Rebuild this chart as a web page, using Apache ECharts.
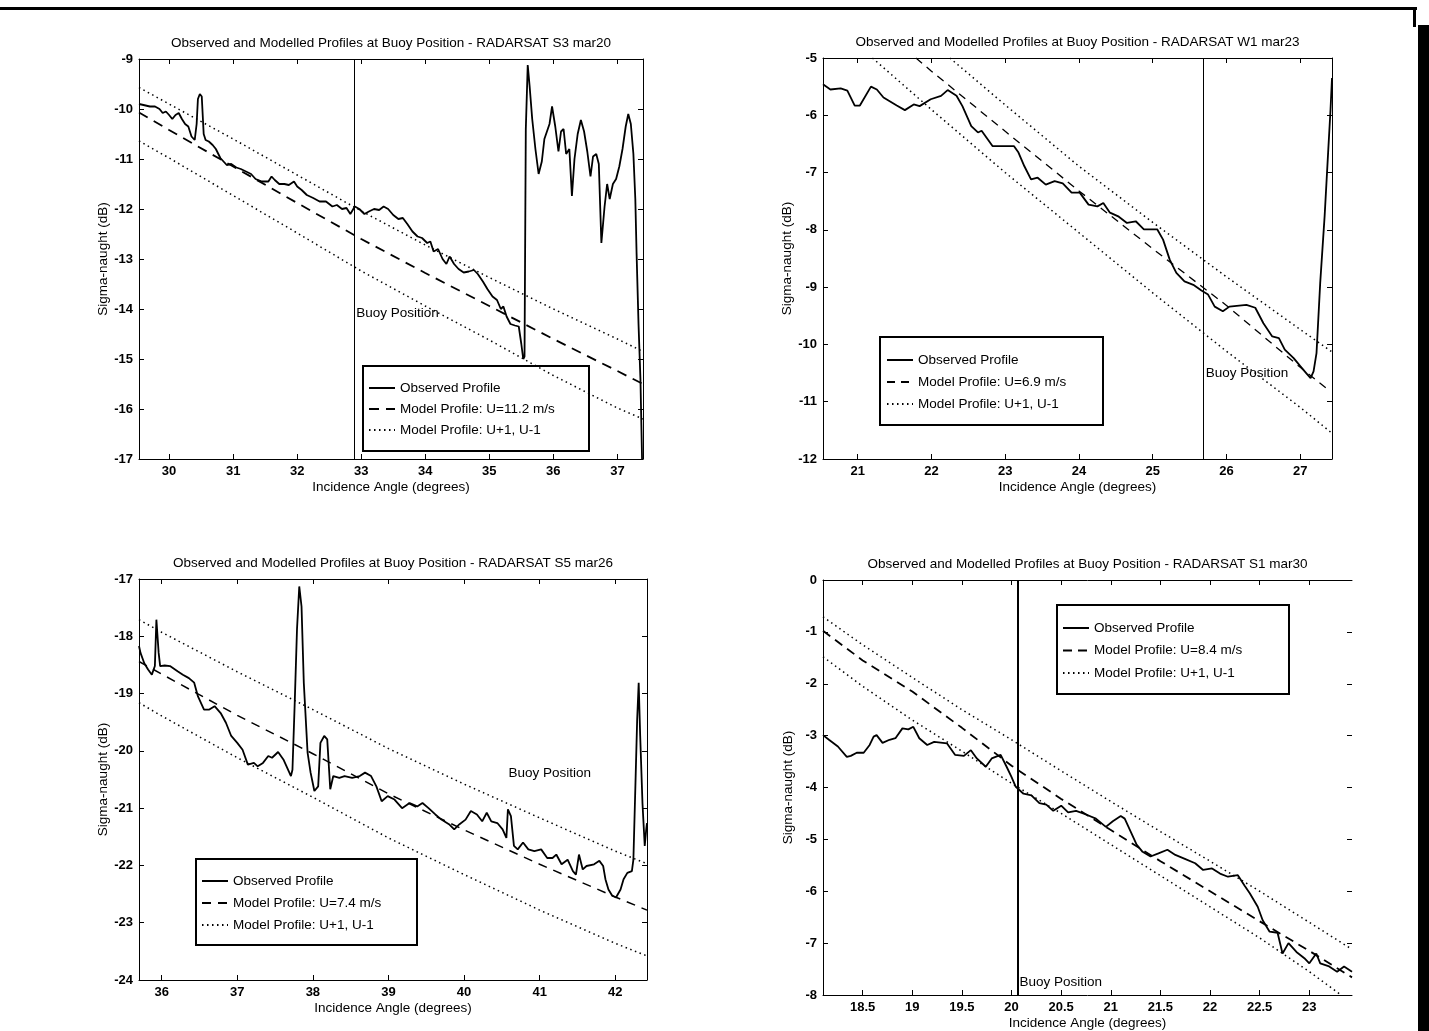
<!DOCTYPE html>
<html><head><meta charset="utf-8">
<script src="https://cdn.jsdelivr.net/npm/echarts@6/dist/echarts.min.js"></script>
<style>html,body{margin:0;padding:0;background:#fff;}#c{width:1429px;height:1031px;}</style>
</head><body><div id="c"></div>
<script>
// ---------------- DATA ----------------
const obsName = 'Observed Profile';
const bandName = 'Model Profile: U+1, U-1';
const xName = 'Incidence Angle (degrees)';
const yName = 'Sigma-naught (dB)';
const buoyText = 'Buoy Position';

// Panel 1: RADARSAT S3 mar20
const p1Title = 'Observed and Modelled Profiles at Buoy Position - RADARSAT S3 mar20';
const p1ModelName = 'Model Profile: U=11.2 m/s';
const p1XTicks = [30,31,32,33,34,35,36,37];
const p1Buoy = 32.89;
const p1Note = [32.89, -14.08];
const p1Obs = [[29.53,-9.90],[29.6,-9.92],[29.7,-9.95],[29.78,-9.95],[29.85,-10.0],[29.9,-10.08],[29.95,-10.05],[30.0,-10.12],[30.05,-10.2],[30.1,-10.12],[30.15,-10.08],[30.2,-10.2],[30.25,-10.3],[30.3,-10.35],[30.35,-10.55],[30.4,-10.62],[30.43,-10.3],[30.45,-9.8],[30.48,-9.7],[30.51,-9.75],[30.54,-10.5],[30.57,-10.62],[30.62,-10.65],[30.68,-10.72],[30.73,-10.8],[30.8,-10.98],[30.85,-11.05],[30.9,-11.12],[30.97,-11.1],[31.05,-11.17],[31.12,-11.2],[31.2,-11.25],[31.28,-11.3],[31.35,-11.4],[31.45,-11.45],[31.55,-11.45],[31.6,-11.35],[31.65,-11.42],[31.72,-11.5],[31.8,-11.5],[31.87,-11.52],[31.95,-11.45],[32.0,-11.55],[32.07,-11.62],[32.15,-11.72],[32.25,-11.78],[32.35,-11.85],[32.45,-11.85],[32.55,-11.95],[32.62,-11.92],[32.7,-12.0],[32.77,-11.98],[32.83,-12.1],[32.9,-11.95],[32.97,-12.0],[33.05,-12.1],[33.12,-12.05],[33.2,-12.0],[33.28,-12.02],[33.35,-11.95],[33.42,-12.0],[33.5,-12.12],[33.58,-12.2],[33.65,-12.18],[33.72,-12.3],[33.8,-12.45],[33.88,-12.55],[33.95,-12.58],[34.03,-12.68],[34.08,-12.65],[34.13,-12.85],[34.2,-12.8],[34.27,-13.0],[34.33,-13.1],[34.38,-12.95],[34.45,-13.1],[34.52,-13.2],[34.6,-13.27],[34.68,-13.25],[34.76,-13.22],[34.82,-13.3],[34.9,-13.45],[34.97,-13.6],[35.05,-13.75],[35.12,-13.82],[35.18,-14.0],[35.22,-13.95],[35.27,-14.15],[35.33,-14.3],[35.4,-14.33],[35.46,-14.35],[35.5,-14.7],[35.53,-15.0],[35.55,-14.95],[35.57,-10.4],[35.6,-9.12],[35.63,-9.55],[35.67,-10.2],[35.72,-10.8],[35.77,-11.3],[35.82,-11.05],[35.86,-10.6],[35.9,-10.45],[35.94,-10.3],[35.98,-9.95],[36.03,-10.35],[36.08,-10.85],[36.12,-10.45],[36.16,-10.4],[36.2,-10.9],[36.25,-10.8],[36.29,-11.74],[36.33,-11.0],[36.38,-10.5],[36.43,-10.22],[36.48,-10.45],[36.53,-10.85],[36.58,-11.35],[36.62,-10.95],[36.67,-10.9],[36.71,-11.1],[36.75,-12.68],[36.8,-11.95],[36.84,-11.5],[36.88,-11.8],[36.93,-11.5],[36.98,-11.4],[37.03,-11.15],[37.08,-10.8],[37.13,-10.35],[37.17,-10.1],[37.21,-10.3],[37.25,-10.9],[37.28,-11.8],[37.3,-12.9],[37.33,-14.3],[37.36,-15.4],[37.39,-17.3]];
const p1Model = [[29.53,-10.07],[30,-10.42],[31,-11.15],[32,-11.88],[33,-12.6],[34,-13.28],[35,-13.94],[36,-14.6],[37,-15.24],[37.4,-15.5]];
const p1Upper = [[29.53,-9.57],[30,-9.9],[31,-10.6],[32,-11.32],[33,-12.04],[34,-12.72],[35,-13.37],[36,-14.0],[37,-14.6],[37.4,-14.85]];
const p1Lower = [[29.53,-10.64],[30,-10.98],[31,-11.73],[32,-12.48],[33,-13.24],[34,-13.94],[35,-14.62],[36,-15.33],[37,-15.98],[37.4,-16.2]];

// Panel 2: RADARSAT W1 mar23
const p2Title = 'Observed and Modelled Profiles at Buoy Position - RADARSAT W1 mar23';
const p2ModelName = 'Model Profile: U=6.9 m/s';
const p2XTicks = [21,22,23,24,25,26,27];
const p2Buoy = 25.69;
const p2Note = [25.69, -10.5];
const p2Obs = [[20.53,-5.46],[20.63,-5.55],[20.77,-5.53],[20.86,-5.57],[20.96,-5.83],[21.03,-5.83],[21.18,-5.50],[21.26,-5.55],[21.35,-5.69],[21.53,-5.83],[21.64,-5.91],[21.76,-5.81],[21.84,-5.84],[21.99,-5.72],[22.13,-5.66],[22.22,-5.56],[22.34,-5.66],[22.42,-5.84],[22.54,-6.19],[22.63,-6.30],[22.68,-6.27],[22.83,-6.54],[23.0,-6.54],[23.12,-6.54],[23.18,-6.65],[23.26,-6.89],[23.35,-7.12],[23.44,-7.09],[23.55,-7.21],[23.67,-7.15],[23.78,-7.19],[23.9,-7.35],[24.01,-7.35],[24.13,-7.56],[24.25,-7.59],[24.33,-7.53],[24.42,-7.70],[24.54,-7.77],[24.65,-7.88],[24.77,-7.85],[24.88,-7.99],[25.06,-7.99],[25.14,-8.17],[25.23,-8.52],[25.32,-8.75],[25.43,-8.90],[25.55,-8.96],[25.66,-9.06],[25.75,-9.13],[25.84,-9.34],[25.95,-9.42],[26.04,-9.34],[26.27,-9.31],[26.39,-9.36],[26.5,-9.63],[26.62,-9.86],[26.71,-9.89],[26.79,-10.09],[26.91,-10.24],[27.0,-10.38],[27.08,-10.50],[27.14,-10.59],[27.18,-10.47],[27.22,-10.15],[27.27,-8.93],[27.33,-7.76],[27.38,-6.59],[27.41,-5.90],[27.43,-5.35]];
const p2Model = [[21.79,-5.0],[22,-5.23],[23,-6.28],[24,-7.32],[25,-8.33],[26,-9.32],[27,-10.4],[27.36,-10.77]];
const p2Upper = [[22.25,-5.0],[23,-5.82],[24,-6.89],[25,-7.87],[26,-8.82],[27,-9.74],[27.43,-10.13]];
const p2Lower = [[21.2,-5.0],[22,-5.9],[23,-7.0],[24,-8.05],[25,-9.1],[26,-10.12],[27,-11.1],[27.43,-11.55]];

// Panel 3: RADARSAT S5 mar26
const p3Title = 'Observed and Modelled Profiles at Buoy Position - RADARSAT S5 mar26';
const p3ModelName = 'Model Profile: U=7.4 m/s';
const p3XTicks = [36,37,38,39,40,41,42];
const p3Buoy = null;
const p3Note = [40.56, -20.40];
const p3Obs = [[35.7,-18.17],[35.72,-18.29],[35.77,-18.47],[35.82,-18.58],[35.87,-18.67],[35.91,-18.52],[35.93,-17.71],[35.96,-18.29],[35.98,-18.52],[36.04,-18.51],[36.11,-18.52],[36.21,-18.61],[36.28,-18.67],[36.36,-18.73],[36.43,-18.81],[36.48,-19.05],[36.56,-19.28],[36.63,-19.28],[36.70,-19.22],[36.78,-19.34],[36.85,-19.51],[36.92,-19.74],[37.0,-19.86],[37.07,-19.98],[37.14,-20.24],[37.22,-20.21],[37.27,-20.27],[37.34,-20.21],[37.41,-20.09],[37.46,-20.12],[37.54,-20.02],[37.61,-20.15],[37.71,-20.44],[37.73,-20.33],[37.76,-19.16],[37.79,-17.88],[37.82,-17.13],[37.85,-17.48],[37.88,-18.81],[37.93,-20.03],[37.97,-20.38],[38.02,-20.70],[38.07,-20.62],[38.10,-19.86],[38.15,-19.74],[38.19,-19.80],[38.23,-20.67],[38.27,-20.44],[38.35,-20.47],[38.42,-20.44],[38.52,-20.47],[38.62,-20.44],[38.69,-20.38],[38.77,-20.44],[38.84,-20.62],[38.91,-20.88],[38.99,-20.79],[39.08,-20.85],[39.18,-21.0],[39.28,-20.91],[39.38,-20.97],[39.45,-20.91],[39.53,-21.0],[39.62,-21.11],[39.70,-21.20],[39.80,-21.28],[39.87,-21.37],[39.94,-21.28],[40.02,-21.20],[40.09,-21.05],[40.17,-21.11],[40.24,-21.23],[40.30,-21.08],[40.36,-21.23],[40.44,-21.26],[40.51,-21.37],[40.56,-21.52],[40.58,-21.02],[40.62,-21.14],[40.66,-21.66],[40.71,-21.72],[40.78,-21.60],[40.85,-21.72],[40.93,-21.75],[41.02,-21.72],[41.10,-21.87],[41.17,-21.87],[41.22,-21.81],[41.29,-21.98],[41.37,-21.90],[41.44,-22.10],[41.48,-22.16],[41.52,-21.81],[41.57,-22.07],[41.62,-22.01],[41.72,-21.98],[41.79,-21.92],[41.84,-22.01],[41.87,-22.24],[41.91,-22.42],[41.96,-22.53],[42.01,-22.56],[42.07,-22.42],[42.11,-22.24],[42.16,-22.13],[42.22,-22.10],[42.24,-21.90],[42.27,-20.44],[42.29,-19.45],[42.31,-18.81],[42.33,-19.74],[42.36,-20.91],[42.39,-21.66],[42.41,-21.37],[42.42,-21.26]];
const p3Model = [[35.7,-18.44],[36,-18.66],[37,-19.38],[38,-20.05],[39,-20.75],[40,-21.38],[41,-21.98],[42,-22.55],[42.42,-22.78]];
const p3Upper = [[35.7,-17.71],[36,-17.93],[37,-18.62],[38,-19.28],[39,-19.96],[40,-20.58],[41,-21.17],[42,-21.75],[42.42,-21.97]];
const p3Lower = [[35.7,-19.16],[36,-19.39],[37,-20.12],[38,-20.81],[39,-21.52],[40,-22.16],[41,-22.78],[42,-23.36],[42.42,-23.58]];

// Panel 4: RADARSAT S1 mar30
const p4Title = 'Observed and Modelled Profiles at Buoy Position - RADARSAT S1 mar30';
const p4ModelName = 'Model Profile: U=8.4 m/s';
const p4XTicks = [18.5,19,19.5,20,20.5,21,21.5,22,22.5,23];
const p4Buoy = 20.06;
const p4Note = [20.06, -7.75];
const p4Obs = [[18.10,-2.99],[18.16,-3.08],[18.25,-3.21],[18.34,-3.41],[18.38,-3.39],[18.44,-3.33],[18.51,-3.33],[18.57,-3.18],[18.61,-3.02],[18.64,-2.99],[18.70,-3.14],[18.77,-3.08],[18.83,-3.05],[18.90,-2.86],[18.96,-2.88],[19.01,-2.83],[19.07,-3.05],[19.15,-3.18],[19.22,-3.12],[19.35,-3.15],[19.43,-3.37],[19.52,-3.39],[19.59,-3.28],[19.65,-3.44],[19.74,-3.60],[19.80,-3.44],[19.89,-3.37],[19.95,-3.60],[20.0,-3.8],[20.04,-3.98],[20.12,-4.12],[20.2,-4.15],[20.28,-4.3],[20.35,-4.33],[20.42,-4.45],[20.5,-4.35],[20.57,-4.48],[20.65,-4.45],[20.75,-4.52],[20.85,-4.6],[20.95,-4.76],[21.02,-4.65],[21.1,-4.55],[21.14,-4.6],[21.2,-4.85],[21.26,-5.1],[21.32,-5.24],[21.4,-5.33],[21.48,-5.27],[21.57,-5.2],[21.65,-5.3],[21.74,-5.37],[21.85,-5.46],[21.93,-5.59],[22.02,-5.56],[22.1,-5.66],[22.18,-5.72],[22.28,-5.69],[22.35,-5.9],[22.4,-6.04],[22.48,-6.3],[22.53,-6.56],[22.6,-6.78],[22.68,-6.8],[22.73,-7.2],[22.79,-7.0],[22.87,-7.17],[22.95,-7.29],[23.0,-7.39],[23.07,-7.2],[23.11,-7.39],[23.2,-7.45],[23.28,-7.55],[23.35,-7.45],[23.43,-7.55]];
const p4Model = [[18.1,-0.98],[18.5,-1.55],[19,-2.15],[19.5,-2.85],[20,-3.58],[20.5,-4.22],[21,-4.82],[21.5,-5.42],[22,-6.0],[22.5,-6.58],[23,-7.15],[23.43,-7.66]];
const p4Upper = [[18.1,-0.71],[18.5,-1.25],[19,-1.88],[19.5,-2.5],[20,-3.08],[20.5,-3.68],[21,-4.27],[21.5,-4.85],[22,-5.42],[22.5,-6.0],[23,-6.6],[23.43,-7.12]];
const p4Lower = [[18.1,-1.48],[18.5,-2.05],[19,-2.7],[19.5,-3.3],[20,-3.92],[20.5,-4.5],[21,-5.1],[21.5,-5.7],[22,-6.3],[22.5,-6.9],[23,-7.55],[23.32,-8.0]];

// ---------------- LAYOUT / STYLE ----------------
const FONT = '"Liberation Sans", Arial, sans-serif';
const TXT = 13.5;
const panels = [
  {title:p1Title, modelName:p1ModelName, xTicks:p1XTicks, buoy:p1Buoy, note:p1Note, obs:p1Obs, model:p1Model, upper:p1Upper, lower:p1Lower,
   grid:{left:139, top:59, width:504, height:400}, x:[29.53,37.4], y:[-17,-9], buoyW:1, rightLine:true,
   dash:[10,7], dashW:1.8, legend:{x:363, y:366, w:226, h:85, row1:388, step:21, iconX:368}},
  {title:p2Title, modelName:p2ModelName, xTicks:p2XTicks, buoy:p2Buoy, note:p2Note, obs:p2Obs, model:p2Model, upper:p2Upper, lower:p2Lower,
   grid:{left:823, top:58, width:509, height:401}, x:[20.53,27.43], y:[-12,-5], buoyW:1, rightLine:true,
   dash:[8,6], dashW:1.3, legend:{x:880, y:337, w:223, h:88, row1:360, step:22, iconX:886}},
  {title:p3Title, modelName:p3ModelName, xTicks:p3XTicks, buoy:p3Buoy, note:p3Note, obs:p3Obs, model:p3Model, upper:p3Upper, lower:p3Lower,
   grid:{left:139, top:579, width:508, height:401}, x:[35.7,42.42], y:[-24,-17], buoyW:1, rightLine:true,
   dash:[9,7], dashW:1.5, legend:{x:196, y:859, w:221, h:86, row1:881, step:22, iconX:201}},
  {title:p4Title, modelName:p4ModelName, xTicks:p4XTicks, buoy:p4Buoy, note:p4Note, obs:p4Obs, model:p4Model, upper:p4Upper, lower:p4Lower,
   grid:{left:823, top:580, width:529, height:415}, x:[18.1,23.43], y:[-8,0], buoyW:2, rightLine:false,
   dash:[9,6], dashW:1.8, legend:{x:1057, y:605, w:232, h:89, row1:628, step:22.5, iconX:1062}}
];

const grids = [], xAxes = [], yAxes = [], series = [], titles = [], legends = [];
const graphics = [
  {type:'rect', shape:{x:0, y:7, width:1417, height:3}, style:{fill:'#000'}, silent:true},
  {type:'rect', shape:{x:1413, y:7, width:3, height:20}, style:{fill:'#000'}, silent:true},
  {type:'rect', shape:{x:1418, y:25, width:11, height:1006}, style:{fill:'#000'}, silent:true}
];
const axisLineStyle = {color:'#000', width:1};
const ITEM_H = 14;
const DOT = [1.5, 3.5];
panels.forEach((p, k) => {
  grids.push(Object.assign({containLabel:false}, p.grid));
  titles.push({text:p.title, left:p.grid.left + p.grid.width/2, top:p.grid.top - 23, textAlign:'center', padding:0,
    textStyle:{fontFamily:FONT, fontSize:TXT, fontWeight:'normal', color:'#000'}});
  const xb = {gridIndex:k, type:'value', min:p.x[0], max:p.x[1], position:'bottom',
    axisLine:{show:true, onZero:false, lineStyle:axisLineStyle},
    axisTick:{show:true, inside:true, length:5, customValues:p.xTicks, lineStyle:axisLineStyle},
    axisLabel:{show:true, customValues:p.xTicks, color:'#000', fontFamily:FONT, fontSize:13, fontWeight:'bold', margin:6},
    splitLine:{show:false},
    name:xName, nameLocation:'middle', nameGap:21, nameTextStyle:{fontFamily:FONT, fontSize:TXT, color:'#000', verticalAlign:'top'}};
  const xt = {gridIndex:k, type:'value', min:p.x[0], max:p.x[1], position:'top',
    axisLine:{show:true, onZero:false, lineStyle:axisLineStyle},
    axisTick:{show:true, inside:true, length:5, customValues:p.xTicks, lineStyle:axisLineStyle},
    axisLabel:{show:false}, splitLine:{show:false}};
  xAxes.push(xb, xt);
  const yl = {gridIndex:k, type:'value', min:p.y[0], max:p.y[1], interval:1, position:'left',
    axisLine:{show:true, onZero:false, lineStyle:axisLineStyle},
    axisTick:{show:true, inside:true, length:5, lineStyle:axisLineStyle},
    axisLabel:{show:true, color:'#000', fontFamily:FONT, fontSize:13, fontWeight:'bold', margin:6},
    splitLine:{show:false},
    name:yName, nameLocation:'middle', nameGap:28, nameRotate:90, nameTextStyle:{fontFamily:FONT, fontSize:TXT, color:'#000'}};
  const yr = {gridIndex:k, type:'value', min:p.y[0], max:p.y[1], interval:1, position:'right',
    axisLine:{show:p.rightLine, onZero:false, lineStyle:axisLineStyle},
    axisTick:{show:true, inside:true, length:5, lineStyle:axisLineStyle},
    axisLabel:{show:false}, splitLine:{show:false}};
  yAxes.push(yl, yr);
  const xi = 2*k, yi = 2*k;
  const obsSeries = {name:obsName, type:'line', xAxisIndex:xi, yAxisIndex:yi, data:p.obs, symbol:'none', z:5,
    lineStyle:{color:'#000', width:1.8}, itemStyle:{color:'#000'}};
  if (p.buoy !== null) {
    obsSeries.markLine = {silent:true, symbol:['none','none'], label:{show:false},
      lineStyle:{color:'#000', width:p.buoyW, type:'solid'}, emphasis:{disabled:true},
      data:[{xAxis:p.buoy}]};
  }
  series.push(obsSeries);
  series.push({name:p.modelName, type:'line', xAxisIndex:xi, yAxisIndex:yi, data:p.model, symbol:'none', z:4,
    lineStyle:{color:'#000', width:p.dashW, type:p.dash}, itemStyle:{color:'#000'}});
  series.push({name:bandName, type:'line', xAxisIndex:xi, yAxisIndex:yi, data:p.upper, symbol:'none', z:3,
    lineStyle:{color:'#000', width:1.5, type:DOT}, itemStyle:{color:'#000'}});
  series.push({name:bandName, type:'line', xAxisIndex:xi, yAxisIndex:yi, data:p.lower, symbol:'none', z:3,
    lineStyle:{color:'#000', width:1.5, type:DOT}, itemStyle:{color:'#000'}});
  // legend frame + legend
  const L = p.legend;
  graphics.push({type:'rect', shape:{x:L.x, y:L.y, width:L.w, height:L.h}, style:{fill:'none', stroke:'#000', lineWidth:2}, silent:true, z:20});
  legends.push({left:L.iconX, top:L.row1 - ITEM_H/2, orient:'vertical', selectedMode:false, itemWidth:26, itemHeight:ITEM_H,
    itemGap:L.step - ITEM_H, padding:0, backgroundColor:'transparent',
    itemStyle:{opacity:0, borderWidth:0},
    textStyle:{fontFamily:FONT, fontSize:TXT, color:'#000', lineHeight:ITEM_H},
    data:[obsName, p.modelName, bandName]});
});

const chart = echarts.init(document.getElementById('c'), null, {renderer:'canvas'});
chart.setOption({
  animation:false,
  backgroundColor:'#fff',
  title:titles, grid:grids, xAxis:xAxes, yAxis:yAxes, legend:legends, series:series, graphic:graphics
});
// "Buoy Position" annotations, placed through the axes' own scales
panels.forEach((p, k) => {
  const pt = chart.convertToPixel({xAxisIndex:2*k, yAxisIndex:2*k}, p.note);
  graphics.push({type:'text', x:pt[0] + 2, y:pt[1], silent:true, z:20,
    style:{text:buoyText, fill:'#000', font:TXT + 'px ' + FONT, textVerticalAlign:'middle', verticalAlign:'middle'}});
});
chart.setOption({graphic:graphics});
</script></body></html>
